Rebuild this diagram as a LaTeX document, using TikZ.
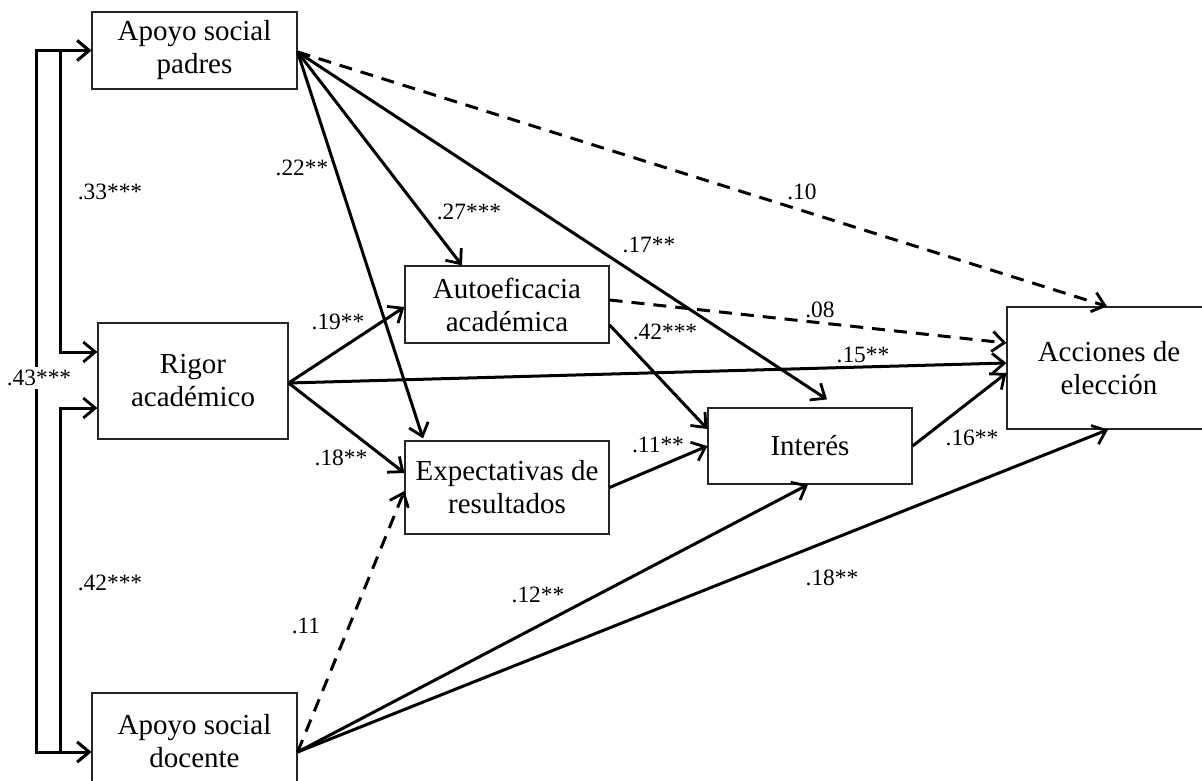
\documentclass[tikz,border=0pt]{standalone}
\usepackage{fontspec}
\setmainfont{Liberation Serif}
\usetikzlibrary{arrows.meta}
\begin{document}
\begin{tikzpicture}[x=0.5pt,y=-0.5pt,
  box/.style={draw=black!85, line width=0.6pt, inner sep=0pt, align=center,
    font=\fontsize{14.5}{16.5}\selectfont},
  tip/.style={Straight Barb[length=6pt,width=10pt,line width=1.4pt]},
  link/.style={line width=1.5pt, -{Straight Barb[length=6pt,width=10pt,line width=1.4pt]}},
  dlink/.style={link, dash pattern=on 6.5pt off 4.5pt},
  both/.style={line width=1.5pt, {Straight Barb[length=6pt,width=10pt,line width=1.4pt]}-{Straight Barb[length=6pt,width=10pt,line width=1.4pt]}},
  coef/.style={inner sep=0pt, font=\fontsize{11.7}{13}\selectfont}]

\useasboundingbox (0,0) rectangle (1202,780);
\clip (0,0) rectangle (1202,780);

% constructs
\node[box, minimum width=102.5pt, minimum height=38.5pt] (padres) at (194.5,50.5) {Apoyo social\\padres};
\node[box, minimum width=95pt, minimum height=58pt] (rigor) at (193,381) {Rigor\\académico};
\node[box, minimum width=102.5pt, minimum height=48pt] (docente) at (194.5,741) {Apoyo social\\docente};
\node[box, minimum width=102pt, minimum height=38.5pt] (autoef) at (507,304.5) {Autoeficacia\\académica};
\node[box, minimum width=102pt, minimum height=46.5pt] (expect) at (507,487.5) {Expectativas de\\resultados};
\node[box, minimum width=102pt, minimum height=38pt] (interes) at (810,446) {Interés};
\node[box, minimum width=102pt, minimum height=61pt] (acciones) at (1109,368) {Acciones de\\elección};

% origin points of the outgoing paths
\coordinate (pa) at ([yshift=-0.75pt]padres.east);
\coordinate (ri) at ([yshift=-1pt]rigor.east);
\coordinate (do) at ([yshift=-5.5pt]docente.east);

% correlations between the exogenous variables
\draw[both] (padres.west) -| ([xshift=-18.5pt,yshift=14.5pt]rigor.west) -- ([yshift=14.5pt]rigor.west);
\draw[both] ([yshift=-13.5pt]rigor.west) -| ([xshift=-15.5pt,yshift=-5.5pt]docente.west) -- ([yshift=-5.5pt]docente.west);
\draw[both] (padres.west) -| ([xshift=-27.5pt,yshift=-5.5pt]docente.west) -- ([yshift=-5.5pt]docente.west);

% paths from parental support
\draw[dlink] (pa) -- ([xshift=-1pt]acciones.north);
\draw[link] (pa) -- ([xshift=-22.5pt]autoef.north);
\draw[link] (pa) -- ([xshift=-42pt,yshift=1pt]expect.north);
\draw[link] (pa) -- ([xshift=8.5pt,yshift=4pt]interes.north);

% paths from academic rigor
\draw[link] (ri) -- ([yshift=-1.25pt]autoef.west);
\draw[link] (ri) -- ([yshift=7.25pt]expect.west);
\draw[link] (ri) -- ([yshift=2.5pt]acciones.west);

% mediators
\draw[dlink] ([yshift=2.25pt]autoef.east) -- ([yshift=12.5pt]acciones.west);
\draw[link] ([yshift=-10.25pt]autoef.east) -- ([yshift=8.5pt]interes.west);
\draw[link] (expect.east) -- (interes.west);
\draw[link] (interes.east) -- ([yshift=-2.5pt]acciones.west);

% paths from teacher support
\draw[dlink] (do) -- ([yshift=-1.75pt]expect.west);
\draw[link] (do) -- ([xshift=-1pt]interes.south);
\draw[link] (do) -- ([xshift=-0.5pt]acciones.south);

% coefficients
\node[coef] (c33) at (110,192) {.33***};
\node[coef, fill=white, inner sep=1.5pt] (c43) at (39,378) {.43***};
\node[coef] (c42a) at (110,583) {.42***};
\node[coef] (c22) at (302,168) {.22**};
\node[coef] (c27) at (469,212) {.27***};
\node[coef] (c17) at (649,245) {.17**};
\node[coef] (c10) at (802,192) {.10};
\node[coef] (c19) at (338,322) {.19**};
\node[coef] (c18a) at (341,458) {.18**};
\node[coef] (c42b) at (665,332) {.42***};
\node[coef] (c11a) at (658,445) {.11**};
\node[coef] (c08) at (820,310) {.08};
\node[coef] (c15) at (863,355) {.15**};
\node[coef] (c16) at (972,438) {.16**};
\node[coef] (c12) at (538,595) {.12**};
\node[coef] (c18b) at (832,578) {.18**};
\node[coef] (c11b) at (306,626) {.11};

\end{tikzpicture}
\end{document}
